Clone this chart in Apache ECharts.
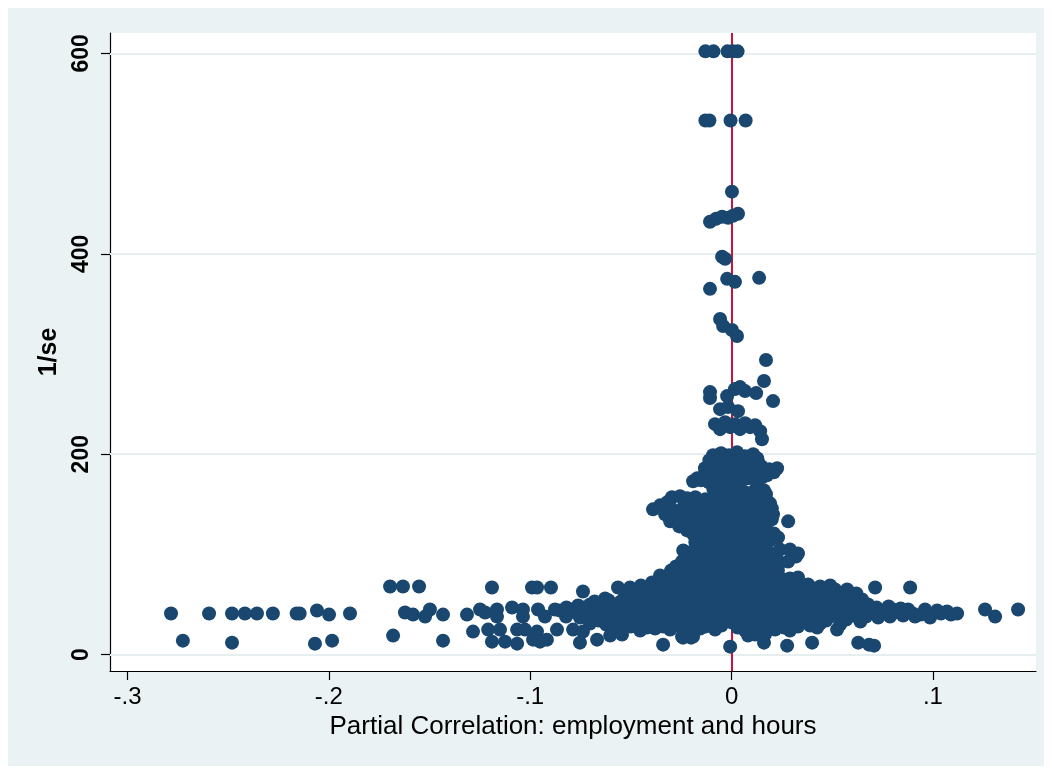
<!DOCTYPE html>
<html>
<head>
<meta charset="utf-8">
<title>Funnel plot: partial correlation vs precision</title>
<script src="https://cdn.jsdelivr.net/npm/echarts@6/dist/echarts.min.js"></script>
<style>
  html, body { margin: 0; padding: 0; background: #ffffff; }
  #chart { position: absolute; left: 8px; top: 8px; width: 1036px; height: 758px; }
</style>
</head>
<body>
<div id="chart"></div>
<script>
// Axis ticks and titles
const xTickValues = [-0.3, -0.2, -0.1, 0, 0.1];
const xTickLabels = ['-.3', '-.2', '-.1', '0', '.1'];
const yTickValues = [0, 200, 400, 600];
const yTickLabels = ['0', '200', '400', '600'];
const xTitle = 'Partial Correlation: employment and hours';
const yTitle = '1/se';
const referenceLine = 0;

// Estimates: [partial correlation, 1/se]
// Most precise estimates (1/se above ~200)
const peakPoints = [
  [-0.013, 602], [-0.009, 602], [-0.002, 602], [0.0005, 602], [0.003, 602],
  [-0.013, 533], [-0.011, 533], [-0.0005, 533], [0.007, 533],
  [0.0002, 462],
  [-0.0107, 432], [-0.0077, 435], [-0.0047, 437], [-0.0017, 436], [0.0007, 438], [0.0032, 440],
  [-0.0047, 397], [-0.0032, 395],
  [-0.0022, 375], [0.0017, 372], [0.0137, 376], [-0.0107, 365],
  [-0.0057, 335], [-0.0042, 328], [0.0002, 324], [0.0027, 318],
  [0.0171, 294], [0.0161, 273],
  [-0.0107, 262], [-0.0107, 256], [0.0122, 261], [0.0206, 253],
  [-0.0022, 258], [0.0017, 265], [0.0042, 267], [0.0067, 263],
  [-0.0057, 245], [-0.0017, 247], [0.0032, 243],
  [-0.0082, 230], [-0.0057, 225], [-0.0032, 232], [-0.0007, 227], [0.0017, 230],
  [0.0042, 225], [0.0067, 231], [0.0092, 227], [0.0117, 229], [0.0142, 223], [0.0151, 215]
];

// Upper body of the funnel (1/se roughly 100-200)
const upperCore = [
  [-0.0092, 199], [-0.0052, 201], [-0.0012, 199], [0.0027, 202], [0.0067, 198], [0.0107, 200], [0.0127, 196],
  [-0.011, 194], [-0.007, 194], [-0.003, 195], [0.001, 193], [0.005, 194], [0.009, 195], [0.013, 193],
  [-0.0132, 186], [-0.0092, 190], [-0.0052, 188], [-0.0012, 189], [0.0027, 187], [0.0067, 190],
  [0.0107, 186], [0.0147, 188], [0.0186, 185], [0.0226, 186],
  [-0.013, 183], [-0.009, 182], [-0.003, 184], [0.002, 183], [0.008, 182], [0.012, 184], [0.017, 183], [0.021, 182],
  [-0.0107, 180], [-0.0057, 178], [-0.0007, 181], [0.0052, 179], [0.0102, 180], [0.0151, 177], [0.0176, 179],
  [-0.017, 176], [-0.013, 177], [-0.008, 175], [-0.002, 176], [0.004, 175], [0.008, 176], [0.013, 174],
  [-0.0191, 173], [-0.0151, 174], [-0.0112, 172], [-0.0042, 168], [-0.0002, 167], [0.0027, 169],
  [-0.009, 165], [-0.004, 164], [0.001, 163], [0.004, 166], [0.012, 165], [0.016, 164],
  [-0.0057, 160], [-0.0017, 158], [0.0057, 163], [0.0092, 161], [0.0132, 162], [0.0171, 160],
  [-0.022, 156], [-0.018, 157], [-0.013, 155], [-0.008, 156], [-0.003, 157], [0.002, 155],
  [0.007, 156], [0.012, 157], [0.017, 155],
  [-0.0296, 157], [-0.0256, 158], [-0.0390, 145], [-0.0355, 149], [-0.0320, 152],
  [-0.0206, 152], [-0.0156, 151], [-0.0107, 153], [-0.0057, 150], [-0.0007, 152], [0.0042, 151],
  [0.0092, 153], [0.0142, 150], [0.0191, 151],
  [-0.030, 146], [-0.024, 147], [-0.019, 145], [-0.013, 146], [-0.008, 147], [-0.002, 145],
  [0.003, 146], [0.009, 147], [0.015, 145], [0.020, 146],
  [-0.0330, 140], [-0.0256, 142], [-0.0156, 141], [-0.0097, 140], [-0.0047, 142], [0.0012, 140],
  [0.0067, 141], [0.0122, 139], [0.0171, 142], [0.0206, 140],
  [-0.028, 137], [-0.020, 136], [-0.015, 138], [-0.010, 137], [-0.005, 136], [0.000, 137],
  [0.006, 138], [0.011, 136], [0.016, 137], [0.020, 135],
  [-0.0305, 133], [-0.0231, 131], [-0.0132, 133], [-0.0082, 132], [-0.0032, 134], [0.0032, 132],
  [0.0092, 133], [0.0142, 131], [0.0281, 133],
  [-0.026, 128], [-0.019, 127], [-0.014, 129], [-0.009, 128], [-0.004, 127], [0.001, 129],
  [0.007, 128], [0.012, 127], [0.017, 128],
  [-0.0221, 124], [-0.0166, 123], [-0.0117, 125], [-0.0067, 124], [-0.0017, 123], [0.0042, 125],
  [0.0102, 124], [0.0156, 122],
  [-0.019, 120], [-0.014, 121], [-0.009, 119], [-0.003, 120], [0.003, 121], [0.009, 119],
  [0.015, 120], [0.021, 121],
  [-0.0166, 117], [-0.0107, 116], [-0.0047, 118], [0.0007, 116], [0.0067, 117], [0.0127, 115],
  [0.0191, 114], [0.0231, 117],
  [-0.018, 112], [-0.010, 113], [-0.005, 111], [0.001, 112], [0.006, 113], [0.012, 111], [0.017, 112],
  [-0.0132, 108], [-0.0077, 109], [-0.0017, 107], [0.0042, 108], [0.0102, 109],
  [-0.024, 104], [-0.013, 105], [-0.006, 104], [0.000, 103], [0.006, 105], [0.012, 104], [0.018, 103], [0.024, 105],
  [-0.0206, 102], [-0.0156, 103], [-0.0097, 101], [0.0290, 105], [0.0330, 101],
  [-0.022, 98], [-0.016, 99], [-0.010, 97], [-0.004, 98], [0.002, 99], [0.008, 97], [0.014, 98], [0.020, 99], [0.032, 98]
];

// Lower body of the funnel (1/se roughly 55-100)
const lowerCore = [
  [-0.0246, 93], [-0.0191, 95], [-0.0137, 96], [-0.0077, 94], [-0.0007, 95], [0.0052, 97],
  [0.0112, 94], [0.0156, 96], [0.0281, 93],
  [-0.021, 91], [-0.016, 90], [-0.011, 92], [-0.005, 91], [0.002, 90], [0.008, 92], [0.013, 91], [0.018, 90], [0.024, 92],
  [-0.0276, 88], [-0.0216, 87], [-0.0156, 89], [-0.0097, 88], [-0.0037, 86], [0.0022, 88],
  [0.0082, 89], [0.0142, 87], [0.0201, 86],
  [-0.030, 84], [-0.024, 83], [-0.019, 85], [-0.013, 84], [-0.007, 83], [-0.001, 85],
  [0.005, 84], [0.011, 83], [0.017, 85], [0.023, 84],
  [-0.0355, 79], [-0.0305, 81], [-0.0246, 80], [-0.0186, 79], [-0.0127, 81], [-0.0067, 80],
  [-0.0007, 78], [0.0052, 80], [0.0112, 81], [0.0171, 79], [0.0231, 78], [0.0290, 76],
  [-0.033, 76], [-0.027, 75], [-0.022, 77], [-0.016, 76], [-0.010, 75], [-0.004, 77],
  [0.002, 76], [0.008, 75], [0.014, 77], [0.020, 76], [0.026, 75], [0.033, 77],
  [-0.0395, 72], [-0.0335, 73], [-0.0276, 71], [-0.0216, 72], [-0.0156, 73], [-0.0097, 71],
  [-0.0037, 72], [0.0022, 73], [0.0082, 71], [0.0142, 72], [0.0201, 73], [0.0261, 71],
  [0.0325, 72], [0.0380, 70],
  [-0.045, 69], [-0.036, 69], [-0.030, 68], [-0.024, 70], [-0.018, 69], [-0.012, 68],
  [-0.006, 70], [0.000, 69], [0.006, 68], [0.012, 70], [0.018, 69], [0.024, 68],
  [0.030, 70], [0.036, 69], [0.044, 68], [0.049, 69],
  [-0.0564, 67], [-0.0504, 67], [-0.0444, 67], [-0.0380, 65], [-0.0320, 66], [-0.0256, 64],
  [-0.0196, 66], [-0.0137, 65], [-0.0077, 66], [-0.0017, 64], [0.0042, 66], [0.0102, 65],
  [0.0161, 66], [0.0221, 64], [0.0281, 66], [0.0340, 65], [0.0405, 66], [0.0464, 64],
  [0.0514, 65], [0.0574, 65], [0.0713, 67], [0.0887, 67],
  [-0.053, 62], [-0.047, 61], [-0.041, 63], [-0.035, 62], [-0.029, 61], [-0.022, 63],
  [-0.016, 62], [-0.010, 61], [-0.004, 63], [0.002, 62], [0.008, 61], [0.014, 63],
  [0.020, 62], [0.026, 61], [0.032, 63], [0.038, 62], [0.044, 61], [0.050, 63], [0.056, 62], [0.062, 61],
  [-0.0628, 56], [-0.0504, 58], [-0.0430, 57], [-0.0365, 58], [-0.0305, 59], [-0.0246, 57],
  [-0.0186, 58], [-0.0127, 59], [-0.0067, 57], [-0.0007, 58], [0.0052, 59], [0.0112, 57],
  [0.0171, 58], [0.0231, 59], [0.0290, 57], [0.0350, 58], [0.0410, 57], [0.0469, 58],
  [0.0529, 56], [0.0589, 57], [0.0648, 55]
];

// Least precise band (1/se below ~55) around the centre
const baseBand = [
  [-0.068, 53], [-0.061, 54], [-0.055, 53], [-0.049, 52], [-0.042, 54], [-0.036, 53],
  [-0.030, 52], [-0.024, 54], [-0.018, 53], [-0.012, 52], [-0.006, 54], [0.000, 53],
  [0.006, 52], [0.012, 54], [0.018, 53], [0.024, 52], [0.030, 54], [0.036, 53],
  [0.042, 52], [0.048, 54], [0.054, 53], [0.060, 52],
  [-0.0762, 49], [-0.0703, 50], [-0.0638, 51], [-0.0579, 49], [-0.0519, 50], [-0.0454, 51],
  [-0.0395, 50], [-0.0335, 49], [-0.0276, 51], [-0.0216, 50], [-0.0156, 49], [-0.0097, 51],
  [-0.0037, 50], [0.0022, 49], [0.0082, 51], [0.0142, 50], [0.0201, 49], [0.0261, 51],
  [0.0320, 50], [0.0380, 49], [0.0440, 51], [0.0499, 50], [0.0559, 49], [0.0618, 51], [0.0678, 50],
  [-0.082, 47], [-0.073, 47], [-0.067, 48], [-0.061, 46], [-0.055, 47], [-0.049, 48],
  [-0.043, 46], [-0.037, 47], [-0.031, 48], [-0.025, 46], [-0.019, 47], [-0.013, 48],
  [-0.007, 46], [-0.001, 47], [0.005, 48], [0.011, 46], [0.017, 47], [0.023, 48],
  [0.029, 46], [0.035, 47], [0.041, 48], [0.047, 46], [0.053, 47], [0.059, 48],
  [0.065, 46], [0.072, 47], [0.078, 48], [0.084, 46],
  [-0.0852, 44], [-0.0792, 43], [-0.0733, 45], [-0.0673, 44], [-0.0613, 43], [-0.0554, 45],
  [-0.0494, 44], [-0.0435, 43], [-0.0375, 45], [-0.0315, 44], [-0.0256, 43], [-0.0196, 45],
  [-0.0137, 44], [-0.0077, 43], [-0.0017, 45], [0.0042, 44], [0.0102, 43], [0.0161, 45],
  [0.0221, 44], [0.0281, 43], [0.0340, 45], [0.0400, 44], [0.0459, 43], [0.0519, 45],
  [0.0579, 44], [0.0638, 43], [0.0698, 45], [0.0757, 44], [0.0802, 45], [0.0877, 45],
  [0.0961, 45], [0.1021, 44], [0.1070, 43], [0.1120, 41],
  [-0.076, 41], [-0.070, 40], [-0.064, 42], [-0.058, 41], [-0.052, 40], [-0.046, 42],
  [-0.040, 41], [-0.034, 40], [-0.028, 42], [-0.022, 41], [-0.016, 40], [-0.010, 42],
  [-0.004, 41], [0.002, 40], [0.008, 42], [0.014, 41], [0.020, 40], [0.026, 42],
  [0.032, 41], [0.038, 40], [0.044, 42], [0.050, 41], [0.056, 40], [0.062, 42],
  [0.068, 41], [0.074, 40], [0.081, 42], [0.090, 41], [0.094, 40], [0.104, 41], [0.109, 40],
  [-0.0822, 38], [-0.0753, 37], [-0.0683, 39], [-0.0613, 38], [-0.0544, 37], [-0.0474, 39],
  [-0.0405, 38], [-0.0345, 37], [-0.0286, 39], [-0.0226, 38], [-0.0166, 37], [-0.0107, 39],
  [-0.0047, 38], [0.0012, 37], [0.0072, 39], [0.0132, 38], [0.0191, 37], [0.0251, 39],
  [0.0310, 38], [0.0370, 37], [0.0430, 39], [0.0489, 38], [0.0549, 37], [0.0608, 39],
  [0.0668, 38], [0.0728, 37], [0.0787, 38], [0.0852, 39], [0.0911, 38], [0.0986, 37],
  [-0.066, 34], [-0.058, 35], [-0.051, 33], [-0.044, 34], [-0.038, 35], [-0.032, 33],
  [-0.026, 34], [-0.020, 35], [-0.014, 33], [-0.008, 34], [-0.002, 35], [0.004, 33],
  [0.010, 34], [0.016, 35], [0.022, 33], [0.028, 34], [0.034, 35], [0.040, 33],
  [0.047, 34], [0.057, 35], [0.064, 33],
  [-0.0703, 31], [-0.0623, 30], [-0.0554, 32], [-0.0484, 31], [-0.0415, 30], [-0.0355, 32],
  [-0.0296, 31], [-0.0236, 30], [-0.0176, 32], [-0.0117, 31], [-0.0057, 30], [0.0002, 32],
  [0.0062, 31], [0.0122, 30], [0.0181, 32], [0.0241, 31], [0.0300, 30], [0.0370, 32],
  [0.0440, 31], [0.0539, 30],
  [-0.050, 28], [-0.042, 27], [-0.034, 28], [-0.027, 29], [-0.020, 27], [-0.013, 28],
  [-0.005, 29], [0.003, 27], [0.010, 28], [0.018, 29], [0.026, 27], [0.033, 28], [0.039, 29],
  [-0.0787, 25], [-0.0738, 23], [-0.0579, 25], [-0.0454, 24], [-0.0380, 26], [-0.0305, 25],
  [-0.0231, 24], [-0.0156, 26], [-0.0082, 25], [0.0067, 24], [0.0142, 26], [0.0216, 25],
  [0.0290, 24], [0.0425, 27], [0.0524, 25],
  [-0.0603, 19], [-0.0544, 20], [-0.0246, 18], [-0.0191, 18], [0.0082, 19], [0.0166, 20],
  [-0.0753, 12], [-0.0668, 15], [-0.0340, 10], [-0.0241, 17], [-0.0201, 17], [-0.0007, 8],
  [0.0117, 20], [0.0161, 12], [0.0276, 9], [0.0400, 12], [0.0629, 12], [0.0683, 10], [0.0708, 9]
];

// Negative tail
const leftTail = [
  [-0.2784, 41], [-0.2725, 14], [-0.2595, 41], [-0.2481, 41], [-0.2417, 41], [-0.2357, 41],
  [-0.2278, 41], [-0.2481, 12], [-0.2160, 41], [-0.2145, 41], [-0.2059, 44], [-0.1999, 40],
  [-0.1895, 41], [-0.2069, 11], [-0.1984, 14],
  [-0.1696, 68], [-0.1632, 68], [-0.1552, 68], [-0.1190, 67], [-0.0991, 67], [-0.0966, 67],
  [-0.0897, 67], [-0.0738, 63],
  [-0.1622, 42], [-0.1582, 40], [-0.1522, 38], [-0.1498, 45], [-0.1433, 40], [-0.1314, 40],
  [-0.1249, 45], [-0.1224, 42], [-0.1165, 45], [-0.1165, 38], [-0.1090, 47], [-0.1036, 45],
  [-0.1036, 38], [-0.0961, 45], [-0.0927, 38], [-0.0877, 45],
  [-0.1681, 19], [-0.1284, 23], [-0.1209, 25], [-0.1150, 25], [-0.1065, 25], [-0.1026, 25],
  [-0.0966, 23], [-0.0867, 25],
  [-0.1433, 14], [-0.1190, 13], [-0.1125, 13], [-0.1065, 11], [-0.0986, 15], [-0.0951, 13],
  [-0.0917, 15]
];

// Positive tail
const rightTail = [
  [0.1259, 45], [0.1309, 38], [0.1423, 45]
];

const allPoints = [].concat(peakPoints, upperCore, lowerCore, baseBand, leftTail, rightTail);

function tickText(values, labels) {
  return function (v) {
    for (let i = 0; i < values.length; i++) {
      if (Math.abs(values[i] - v) < 1e-9) return labels[i];
    }
    return '';
  };
}

const navy = '#1a476f';
const gridColor = '#e6eef0';
const fontFamily = '"Liberation Sans", Arial, sans-serif';

const chart = echarts.init(document.getElementById('chart'));
chart.setOption({
  animation: false,
  backgroundColor: '#eaf2f3',
  grid: {
    left: 102, top: 25, width: 926, height: 638,
    show: true, backgroundColor: '#ffffff', borderWidth: 0
  },
  xAxis: {
    type: 'value',
    min: -0.3087, max: 0.1512,
    axisLine: { onZero: false, lineStyle: { color: '#000000', width: 1.2 } },
    axisTick: { customValues: xTickValues, length: 9, lineStyle: { color: '#000000', width: 1.2 } },
    axisLabel: {
      customValues: xTickValues, formatter: tickText(xTickValues, xTickLabels),
      color: '#000000', fontSize: 24, fontFamily: fontFamily, margin: 14
    },
    splitLine: { show: false },
    name: xTitle, nameLocation: 'middle', nameGap: 40,
    nameTextStyle: { color: '#000000', fontSize: 26, fontFamily: fontFamily }
  },
  yAxis: {
    type: 'value',
    min: -16.3, max: 620.3,
    axisLine: { onZero: false, lineStyle: { color: '#000000', width: 1.2 } },
    axisTick: { customValues: yTickValues, length: 9, lineStyle: { color: '#000000', width: 1.2 } },
    axisLabel: {
      customValues: yTickValues, formatter: tickText(yTickValues, yTickLabels),
      rotate: 90, color: '#000000', fontSize: 23, fontWeight: 'bold', fontFamily: fontFamily, margin: 17
    },
    splitLine: { show: false },
    name: yTitle, nameLocation: 'middle', nameGap: 48, nameRotate: 90,
    nameTextStyle: { color: '#000000', fontSize: 25, fontWeight: 'bold', fontFamily: fontFamily }
  },
  series: [
    {
      // horizontal gridlines and the zero-effect reference line, kept beneath the markers
      type: 'scatter',
      data: [],
      z: 1,
      silent: true,
      markLine: {
        z: 1,
        silent: true,
        symbol: 'none',
        label: { show: false },
        animation: false,
        data: yTickValues.map(v => ({ yAxis: v, lineStyle: { color: gridColor, width: 2, type: 'solid' } }))
          .concat([{ xAxis: referenceLine, lineStyle: { color: '#c8143c', width: 2, type: 'solid' } }])
      }
    },
    {
      type: 'scatter',
      data: allPoints,
      z: 3,
      symbol: 'circle',
      symbolSize: 14,
      itemStyle: { color: navy, opacity: 1 }
    }
  ]
});
</script>
</body>
</html>
